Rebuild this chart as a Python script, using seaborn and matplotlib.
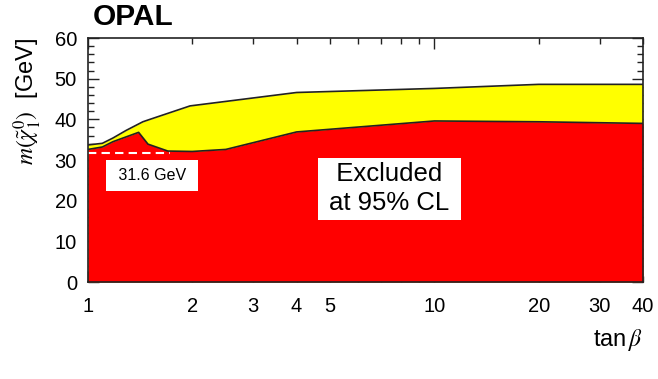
import numpy as np
import matplotlib
matplotlib.use("Agg")
import matplotlib.pyplot as plt
import seaborn as sns

# upper edge of the yellow band (kinematic / expected reach)
tanb_upper = [1.0, 1.1, 1.18, 1.29, 1.44, 1.51, 1.97, 4.0, 10.0, 20.0, 40.0]
mchi_upper = [33.7, 34.1, 35.4, 37.3, 39.4, 40.0, 43.3, 46.6, 47.6, 48.6, 48.6]

# observed 95% CL exclusion (red)
tanb_lower = [1.0, 1.1, 1.18, 1.29, 1.4, 1.49, 1.7, 2.0, 2.5, 4.0, 10.0, 20.0, 40.0]
mchi_lower = [32.6, 33.2, 34.5, 35.7, 36.8, 33.9, 32.2, 32.1, 32.6, 36.9, 39.6, 39.4, 39.0]

# absolute lower limit
lep_limit = 31.6
lep_tanb = [1.0, 1.72]

x_major = [1, 10]
x_minor = [2, 3, 4, 5, 6, 7, 8, 9, 20, 30, 40]
x_minor_labels = ["2", "3", "4", "5", "", "", "", "", "20", "30", "40"]

sns.set_theme(style="ticks")
plt.rcParams["font.family"] = ["Liberation Sans", "DejaVu Sans"]
plt.rcParams["mathtext.fontset"] = "stix"
plt.rcParams["text.color"] = "black"

fig, ax = plt.subplots(figsize=(6.58, 3.79), dpi=100)
fig.subplots_adjust(left=88 / 658, right=643 / 658, bottom=1 - 282 / 379, top=1 - 38 / 379)

ax.fill_between(tanb_upper, 0, mchi_upper, color="#ffff00", lw=0)
ax.fill_between(tanb_lower, 0, mchi_lower, color="#ff0000", lw=0)
sns.lineplot(x=tanb_upper, y=mchi_upper, sort=False, color="#222222", lw=1.2, ax=ax)
sns.lineplot(x=tanb_lower, y=mchi_lower, sort=False, color="#222222", lw=1.2, ax=ax)
ax.hlines(lep_limit, lep_tanb[0], lep_tanb[1], colors="white",
          linestyles=(0, (4, 2.5)), lw=1.5)

ax.set_xscale("log")
ax.set_xlim(1, 40)
ax.set_ylim(0, 60)

ax.set_xticks(x_major, labels=[str(v) for v in x_major])
ax.set_xticks(x_minor, labels=x_minor_labels, minor=True)
ax.set_yticks(np.arange(0, 61, 10))
ax.set_yticks(np.arange(0, 61, 2), minor=True)

ax.tick_params(which="both", direction="in", top=True, right=True, colors="#222222",
               labelcolor="black", labelsize=14.5)
ax.tick_params(axis="x", which="major", length=8, width=1, pad=11)
ax.tick_params(axis="x", which="minor", length=4, width=1, pad=11)
ax.tick_params(axis="y", which="major", length=8, width=1, pad=8)
ax.tick_params(axis="y", which="minor", length=4, width=1, pad=8)
for sp in ax.spines.values():
    sp.set_color("#222222")
    sp.set_linewidth(1.2)
ax.set_xlabel("")
ax.set_ylabel("")

ax.text(1.53, 26.3, " 31.6 GeV ", fontsize=11.5, ha="center", va="center",
        bbox=dict(boxstyle="square,pad=0.5", fc="white", ec="none"))
ax.text(7.42, 22.9, "  Excluded  \nat 95% CL", fontsize=18.5, ha="center", va="center",
        linespacing=1.25, bbox=dict(boxstyle="square,pad=0.18", fc="white", ec="none"))

fig.text(93 / 658, 1 - 17 / 379, "OPAL", fontsize=21.5, fontweight="bold", va="center", ha="left")
fig.text(28 / 658, 1 - 38 / 379, r"$m(\tilde{\chi}^{0}_{1})$  [GeV]", fontsize=17,
         rotation=90, ha="center", va="top")
fig.text(643 / 658, 1 - 340 / 379, r"tan$\,\beta$", fontsize=17, ha="right", va="center")

plt.savefig("out.png", dpi=100)
plt.close()
